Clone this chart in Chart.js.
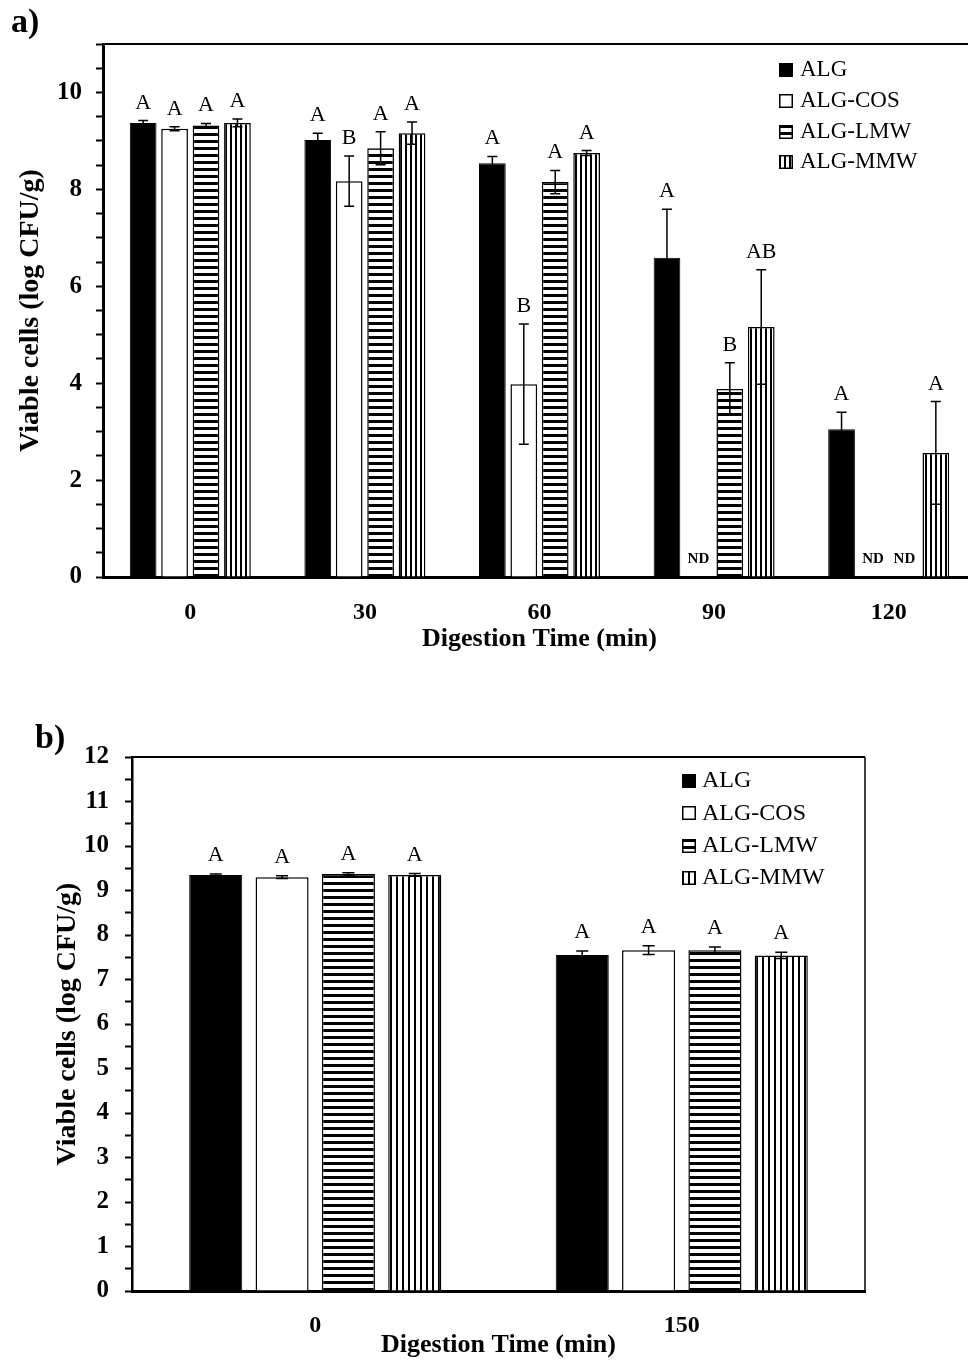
<!DOCTYPE html>
<html>
<head>
<meta charset="utf-8">
<script src="https://cdn.jsdelivr.net/npm/chart.js@4.4.1/dist/chart.umd.min.js"></script>
<style>
  html, body { margin: 0; padding: 0; background: #fff; width: 968px; height: 1362px; overflow: hidden; }
  .panel { position: absolute; left: 0; width: 968px; overflow: hidden; }
  .panel canvas { display: block; }
  .tag { position: absolute; font: bold 34px 'Liberation Serif', 'Times New Roman', serif; line-height: 34px; color: #000; }
</style>
</head>
<body>
<div class="panel" style="top:0; height:665px"><canvas id="chartA" width="990" height="665"></canvas></div>
<div class="panel" style="top:700px; height:662px"><canvas id="chartB" width="968" height="662"></canvas></div>
<div class="tag" style="left:11px; top:4px">a)</div>
<div class="tag" style="left:35px; top:720px">b)</div>
<script>
const SERIF = "'Liberation Serif', 'Times New Roman', serif";
const seriesNames = ['ALG', 'ALG-COS', 'ALG-LMW', 'ALG-MMW'];

// panel a) - null means ND (not detected)
const timesA = ['0', '30', '60', '90', '120'];
const algA = [9.37, 9.02, 8.54, 6.59, 3.05];
const cosA = [9.25, 8.17, 3.98, null, null];
const lmwA = [9.32, 8.85, 8.15, 3.88, null];
const mmwA = [9.37, 9.16, 8.75, 5.16, 2.56];
const algErrA = [0.05, 0.14, 0.14, 1.00, 0.35];
const cosErrA = [0.04, 0.52, 1.24, 0, 0];
const lmwErrA = [0.04, 0.34, 0.24, 0.54, 0];
const mmwErrA = [0.08, 0.23, 0.05, 1.18, 1.06];
const algSigA = ['A', 'A', 'A', 'A', 'A'];
const cosSigA = ['A', 'B', 'B', '', ''];
const lmwSigA = ['A', 'A', 'A', 'B', ''];
const mmwSigA = ['A', 'A', 'A', 'AB', 'A'];

// panel b)
const timesB = ['0', '150'];
const algB = [9.35, 7.55];
const cosB = [9.30, 7.66];
const lmwB = [9.37, 7.66];
const mmwB = [9.35, 7.54];
const algErrB = [0.02, 0.09];
const cosErrB = [0.03, 0.10];
const lmwErrB = [0.03, 0.07];
const mmwErrB = [0.03, 0.07];
const algSigB = ['A', 'A'];
const cosSigB = ['A', 'A'];
const lmwSigB = ['A', 'A'];
const mmwSigB = ['A', 'A'];

function stripes(ctx, dir, period, dark) {
    const c = document.createElement('canvas');
    c.width = dir === 'h' ? 4 : period;
    c.height = dir === 'h' ? period : 4;
    const g = c.getContext('2d');
    g.fillStyle = '#fff';
    g.fillRect(0, 0, c.width, c.height);
    g.fillStyle = '#000';
    if (dir === 'h') g.fillRect(0, 0, c.width, dark);
    else g.fillRect(0, 0, dark, c.height);
    return ctx.createPattern(c, 'repeat');
}

// error bars, significance letters and ND marks
const errorMarks = {
    id: 'errorMarks',
    afterDatasetsDraw(chart, args, opts) {
        const ctx = chart.ctx;
        const y = chart.scales.y;
        ctx.save();
        ctx.strokeStyle = '#000';
        ctx.fillStyle = '#000';
        ctx.lineWidth = opts.lineWidth;
        ctx.textAlign = 'center';
        ctx.textBaseline = 'alphabetic';
        chart.data.datasets.forEach((ds, i) => {
            chart.getDatasetMeta(i).data.forEach((bar, j) => {
                const v = ds.data[j];
                const x = bar.x;
                if (v == null) {
                    ctx.font = opts.ndFont;
                    ctx.fillText('ND', x, y.getPixelForValue(0) - opts.ndLift);
                    return;
                }
                const e = ds.err[j] || 0;
                const top = y.getPixelForValue(v + e);
                const bot = y.getPixelForValue(v - e);
                if (e > 0) {
                    ctx.beginPath();
                    ctx.moveTo(x, top); ctx.lineTo(x, bot);
                    ctx.moveTo(x - opts.cap, top); ctx.lineTo(x + opts.cap, top);
                    ctx.moveTo(x - opts.cap, bot); ctx.lineTo(x + opts.cap, bot);
                    ctx.stroke();
                }
                if (ds.sig[j]) {
                    ctx.font = opts.sigFont;
                    ctx.fillText(ds.sig[j], x, top - opts.sigLift);
                }
            });
        });
        ctx.restore();
    }
};

const legendBox = {
    id: 'legendBox',
    afterDraw(chart, args, opts) {
        const ctx = chart.ctx;
        ctx.save();
        ctx.font = opts.font;
        ctx.textBaseline = 'middle';
        chart.data.datasets.forEach((ds, i) => {
            const y = opts.y + i * opts.gap;
            ctx.save();
            ctx.translate(opts.x, Math.round(y - opts.size / 2));
            ctx.fillStyle = ds.backgroundColor;
            ctx.fillRect(0, 0, opts.size, opts.size);
            ctx.strokeStyle = '#000';
            ctx.lineWidth = 1.5;
            ctx.strokeRect(0.75, 0.75, opts.size - 1.5, opts.size - 1.5);
            ctx.restore();
            ctx.fillStyle = '#000';
            ctx.fillText(ds.label, opts.x + opts.size + opts.textGap, y);
        });
        ctx.restore();
    }
};

const frame = {
    id: 'frame',
    afterDraw(chart, args, opts) {
        const { ctx, chartArea: a } = chart;
        ctx.save();
        ctx.strokeStyle = '#000';
        ctx.lineWidth = opts.top;
        ctx.beginPath();
        ctx.moveTo(a.left - 1, a.top);
        ctx.lineTo(a.right, a.top);
        ctx.stroke();
        if (opts.right) {
            ctx.lineWidth = opts.right;
            ctx.beginPath();
            ctx.moveTo(a.right, a.top);
            ctx.lineTo(a.right, a.bottom);
            ctx.stroke();
        }
        ctx.restore();
    }
};

function makeChart(id, cfg) {
    const canvas = document.getElementById(id);
    const ctx = canvas.getContext('2d');
    const fills = ['#000', '#fff',
        stripes(ctx, 'h', cfg.hPeriod, 3),
        stripes(ctx, 'v', cfg.vPeriod, 2)];
    const datasets = cfg.series.map((s, i) => ({
        label: seriesNames[i],
        data: s.data,
        err: s.err,
        sig: s.sig,
        backgroundColor: fills[i],
        borderColor: '#000',
        borderWidth: i === 0 ? 1 : 1.5,
        borderSkipped: 'start',
        categoryPercentage: cfg.catPct,
        barPercentage: cfg.barPct
    }));

    return new Chart(canvas, {
        type: 'bar',
        data: { labels: cfg.labels, datasets: datasets },
        options: {
            responsive: false,
            animation: false,
            layout: { padding: cfg.pad },
            plugins: {
                legend: { display: false },
                tooltip: { enabled: false },
                errorMarks: cfg.marks,
                legendBox: cfg.legend,
                frame: cfg.frame
            },
            scales: {
                x: {
                    grid: { display: true, drawOnChartArea: false, drawTicks: false },
                    border: { display: true, color: '#000', width: cfg.xBorder },
                    ticks: {
                        color: '#000', maxRotation: 0, autoSkip: false, padding: cfg.xTickPad,
                        font: { family: SERIF, size: 24, weight: 'bold' }
                    },
                    title: {
                        display: true, text: 'Digestion Time (min)', color: '#000',
                        font: { family: SERIF, size: 26, weight: 'bold' },
                        padding: { top: 0, bottom: cfg.xTitlePad }
                    },
                    afterFit: s => { s.height = cfg.xHeight; s.paddingLeft = 0; s.paddingRight = 0; }
                },
                y: {
                    min: 0,
                    max: cfg.yMax,
                    grid: { display: true, drawOnChartArea: false, drawTicks: true, tickLength: 7, tickWidth: 2, tickColor: '#000' },
                    border: { display: true, color: '#000', width: cfg.yBorder },
                    ticks: {
                        stepSize: 0.5, autoSkip: false, color: '#000', padding: cfg.yTickPad,
                        font: { family: SERIF, size: 25, weight: 'bold' },
                        callback: v => (v % cfg.labelEvery === 0 ? v : '')
                    },
                    title: {
                        display: true, text: 'Viable cells (log CFU/g)', color: '#000',
                        font: { family: SERIF, size: cfg.yTitleSize, weight: 'bold' },
                        padding: { top: cfg.yTitlePad, bottom: 0 }
                    },
                    afterFit: s => { s.width = cfg.yWidth; s.paddingTop = 0; s.paddingBottom = 0; }
                }
            }
        },
        plugins: [errorMarks, legendBox, frame]
    });
}

makeChart('chartA', {
    labels: timesA,
    series: [
        { data: algA, err: algErrA, sig: algSigA },
        { data: cosA, err: cosErrA, sig: cosSigA },
        { data: lmwA, err: lmwErrA, sig: lmwSigA },
        { data: mmwA, err: mmwErrA, sig: mmwSigA }
    ],
    hPeriod: 7, vPeriod: 5,
    catPct: 0.72, barPct: 0.85,
    pad: { left: 0, top: 44, right: 14, bottom: 0 },
    yMax: 11, labelEvery: 2,
    yWidth: 103, yBorder: 3, yTickPad: 14, yTitlePad: 14, yTitleSize: 28,
    xHeight: 88, xBorder: 3, xTickPad: 21, xTitlePad: 10,
    marks: { lineWidth: 1.5, cap: 5, sigLift: 12, sigFont: '22px ' + SERIF, ndFont: 'bold 15px ' + SERIF, ndLift: 14 },
    legend: { x: 779, y: 70, gap: 30.8, size: 14, textGap: 7, font: '23px ' + SERIF },
    frame: { top: 2, right: 0 }
});

makeChart('chartB', {
    labels: timesB,
    series: [
        { data: algB, err: algErrB, sig: algSigB },
        { data: cosB, err: cosErrB, sig: cosSigB },
        { data: lmwB, err: lmwErrB, sig: lmwSigB },
        { data: mmwB, err: mmwErrB, sig: mmwSigB }
    ],
    hPeriod: 7, vPeriod: 6,
    catPct: 0.724, barPct: 0.8,
    pad: { left: 0, top: 57, right: 103, bottom: 0 },
    yMax: 12, labelEvery: 1,
    yWidth: 132, yBorder: 2.5, yTickPad: 16, yTitlePad: 51, yTitleSize: 28,
    xHeight: 71, xBorder: 3, xTickPad: 20, xTitlePad: 1,
    marks: { lineWidth: 1.5, cap: 6, sigLift: 13, sigFont: '22px ' + SERIF, ndFont: 'bold 15px ' + SERIF, ndLift: 14 },
    legend: { x: 682, y: 81, gap: 32.4, size: 14, textGap: 6, font: '24px ' + SERIF },
    frame: { top: 2, right: 1.5 }
});
</script>
</body>
</html>
